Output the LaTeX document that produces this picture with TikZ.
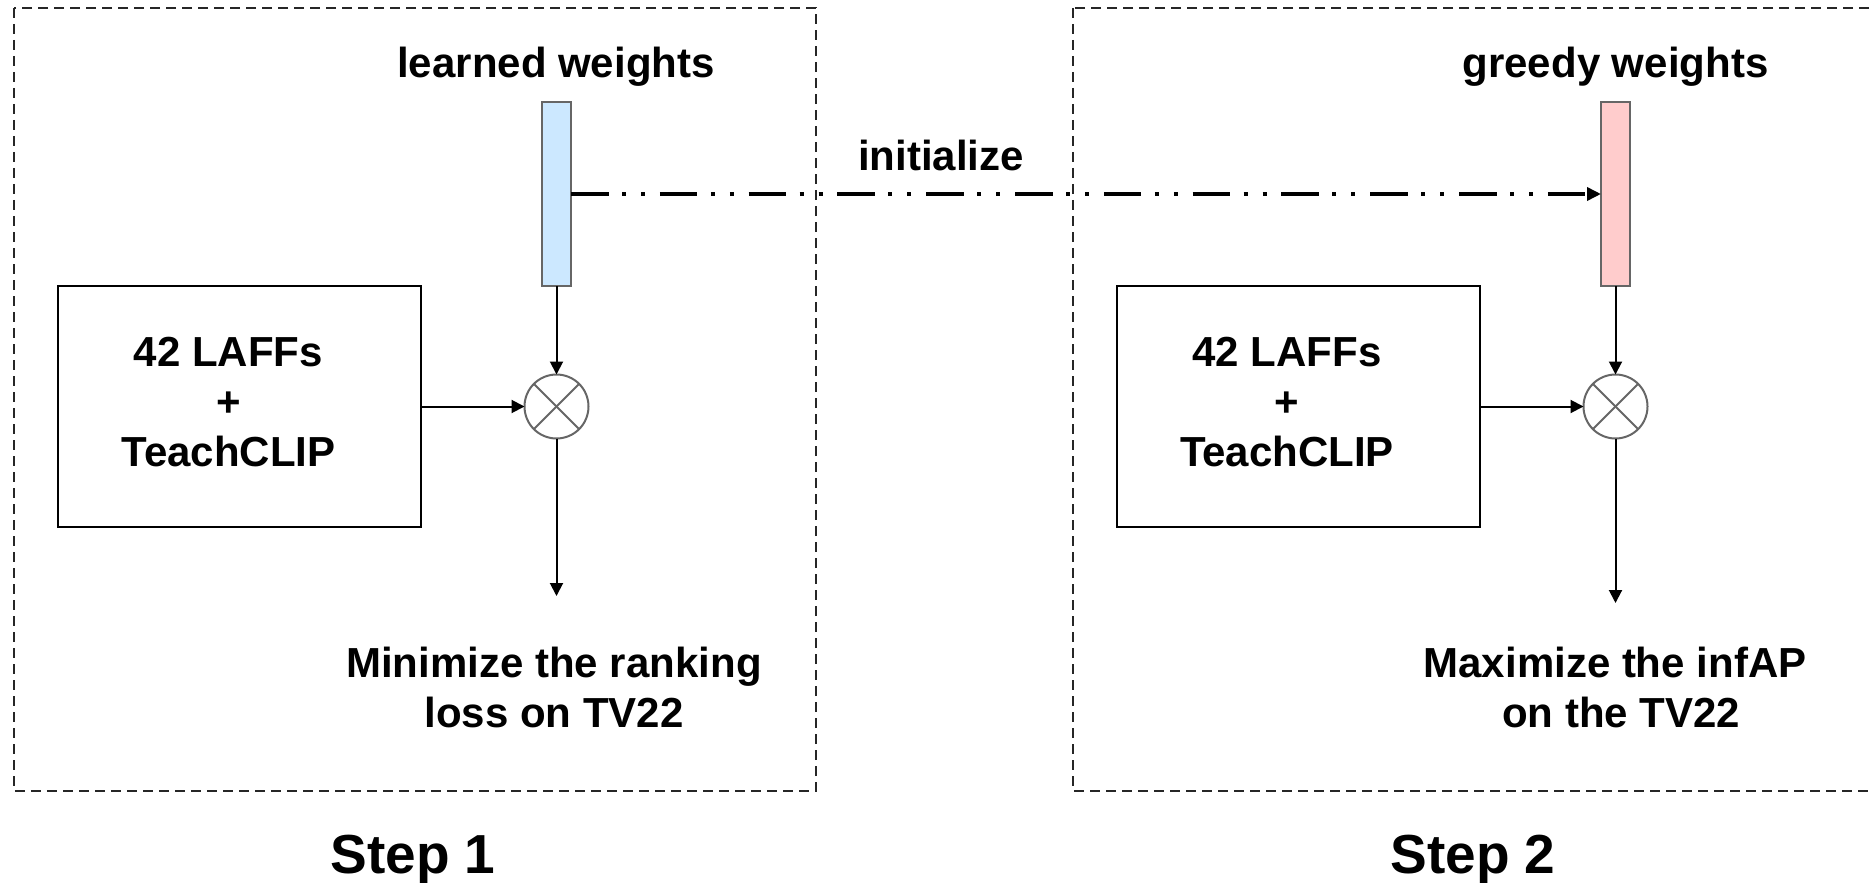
\documentclass[tikz,border=0pt]{standalone}
\usepackage{fontspec}
\setmainfont{Liberation Sans}
\usetikzlibrary{arrows.meta}
\definecolor{wblue}{HTML}{CCE8FF}
\definecolor{wpink}{HTML}{FFCCCC}
\definecolor{ringgray}{HTML}{666666}
% three-line feature label, set slightly left of the box centre
\newcommand{\featlabel}{\raisebox{-1.3pt}{\begin{tabular}{@{}c@{}}42 LAFFs\\+\\TeachCLIP\end{tabular}}\hspace*{11pt}}
\begin{document}
\begin{tikzpicture}[x=0.5pt,y=-0.5pt,
  lbl/.style={font=\fontsize{21}{25}\selectfont\bfseries, inner sep=0pt, align=center},
  steplbl/.style={font=\fontsize{27.5}{33}\selectfont\bfseries, inner sep=0pt},
  stage/.style={draw=black!85, line width=0.9pt, dash pattern=on 5pt off 3pt},
  wbar/.style={draw=ringgray, line width=1pt, minimum width=14.5pt, minimum height=92pt, inner sep=0pt, outer sep=0pt},
  featbox/.style={draw=black, line width=1pt, minimum width=181.5pt, minimum height=120.5pt, inner sep=0pt, outer sep=0pt, font=\fontsize{21}{25}\selectfont\bfseries},
  mult/.style={circle, draw=ringgray, line width=1pt, minimum size=32pt, inner sep=0pt, outer sep=0pt,
    path picture={
      \draw[ringgray, line width=1pt] (path picture bounding box.north east) -- (path picture bounding box.south west);
      \draw[ringgray, line width=1pt] (path picture bounding box.north west) -- (path picture bounding box.south east);
    }},
  flow/.style={line width=1pt, -{Triangle[length=6.5pt,width=6.5pt]}},
  initline/.style={line width=2.3pt, dash pattern=on 18.75pt off 6.75pt on 2pt off 7.5pt on 2pt off 7.4pt, -{Triangle[length=7pt,width=6.5pt]}}
]
\useasboundingbox (0,0) rectangle (1870,883);
\clip (0,0) rectangle (1870,883);

% stage frames
\draw[stage] (14,8) rectangle (816,791);
\draw[stage] (1073,8) rectangle (1880,791);

% step 1
\node[wbar, fill=wblue] (w1) at (556.5,194) {};
\node[lbl, anchor=base] (w1lbl) at (556,78) {learned weights};
\node[featbox] (f1) at (239.5,406.5) {\featlabel};
\node[mult] (m1) at (556.5,406.5) {};
\coordinate (o1) at (556.5,596);
\node[lbl, anchor=base] (goal1) at (554,727) {Minimize the ranking\\loss on TV22};
\node[steplbl, anchor=base] (s1) at (413,873) {Step 1};

\draw[flow] (w1.south) -- (m1.north);
\draw[flow] (f1.east) -- (m1.west);
\draw[flow] (m1.south) -- (o1);

% step 2
\node[wbar, fill=wpink] (w2) at (1615.5,194) {};
\node[lbl, anchor=base] (w2lbl) at (1615.5,78) {greedy weights};
\node[featbox] (f2) at (1298,406.5) {\featlabel};
\node[mult] (m2) at (1615.5,406.5) {};
\coordinate (o2) at (1615.5,603);
\node[lbl, anchor=base] (goal2) at (1615,727) {Maximize the infAP\\\hspace*{0.3em}on the TV22};
\node[steplbl, anchor=base] (s2) at (1473,873) {Step 2};

\draw[flow] (w2.south) -- (m2.north);
\draw[flow] (f2.east) -- (m2.west);
\draw[flow] (m2.south) -- (o2);

% weight initialisation across steps
\node[lbl, anchor=base] (initlbl) at (941,170) {initialize};
\draw[initline] (w1.east) -- (w2.west);
\end{tikzpicture}
\end{document}
